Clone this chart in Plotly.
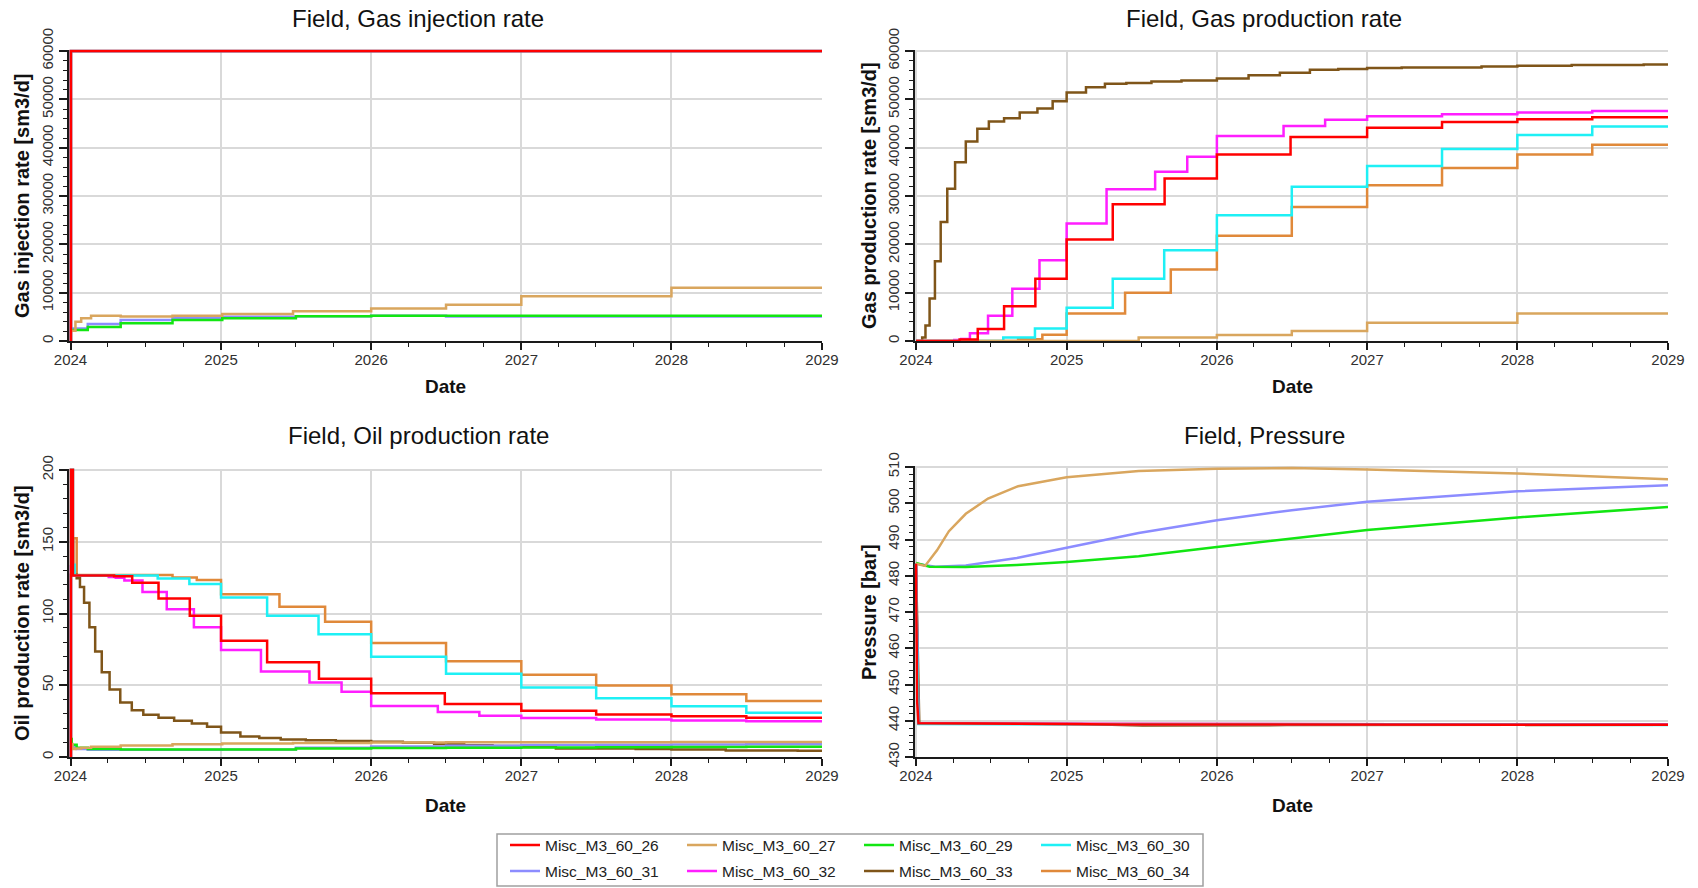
import pandas as pd
import plotly.graph_objects as go

W, H = 1698, 888
START = pd.Timestamp("2024-01-01")
END = pd.Timestamp("2029-01-01")

FONT = "Arial, 'Liberation Sans', sans-serif"

# ---- Report times (days since start) and field rates per case ----
# gir = gas injection rate, gpr = gas production rate, opr = oil production rate [sm3/d]
days_26 = [0, 1, 6, 106, 150, 214, 290, 366, 478, 604, 731, 910, 1096, 1278, 1461, 1643, 1827]
gir_26 = [0, 60000, 60000, 60000, 60000, 60000, 60000, 60000, 60000, 60000, 60000, 60000, 60000, 60000, 60000, 60000, 60000]
gpr_26 = [0, 0, 0, 300, 2500, 7200, 12900, 21000, 28300, 33600, 38600, 42200, 44100, 45300, 45900, 46300, 46300]
opr_26 = [0, 260, 126.5, 126, 121.5, 110.5, 98.4, 81, 66, 54.5, 44.5, 37, 32.3, 29.6, 28.4, 27.3, 27.3]

days_27 = [0, 5, 12, 26, 50, 122, 248, 369, 541, 731, 913, 1096, 1461, 1827]
gir_27 = [2100, 2100, 4000, 4700, 5250, 5050, 5250, 5600, 6150, 6700, 7500, 9250, 11000, 11000]
gpr_27 = [0, 0, 0, 0, 0, 0, 0, 0, 750, 1250, 2050, 3800, 5700, 5700]
opr_27 = [9, 5.5, 6.0, 6.5, 7.2, 8.0, 8.8, 9.4, 9.8, 10.1, 10.2, 10.3, 10.4, 10.4]

days_29 = [0, 3, 15, 42, 122, 248, 369, 548, 731, 913, 1096, 1278, 1461, 1643, 1827]
gir_29 = [2300, 2300, 2300, 2900, 3650, 4350, 4700, 5100, 5250, 5250, 5250, 5250, 5250, 5250, 5250]
opr_29 = [12.5, 8.5, 6.5, 5.5, 5.2, 5.2, 5.3, 6.0, 6.2, 6.4, 6.6, 6.8, 7.0, 7.2, 7.2]

days_30 = [0, 1, 6, 10, 212, 289, 366, 478, 603, 731, 913, 1096, 1278, 1461, 1643, 1827]
gir_30 = [0, 60000, 60000, 60000, 60000, 60000, 60000, 60000, 60000, 60000, 60000, 60000, 60000, 60000, 60000, 60000]
gpr_30 = [0, 0, 0, 0, 750, 2600, 6900, 12900, 18800, 26000, 31900, 36200, 39700, 42600, 44400, 44400]
opr_30 = [0, 240, 134, 126.5, 124.4, 120.5, 111.2, 98.4, 85.6, 69.8, 58.1, 48.4, 40.9, 35.3, 30.9, 30.9]

days_31 = [0, 3, 15, 42, 122, 248, 369, 548, 731, 913, 1096, 1278, 1461, 1643, 1827]
gir_31 = [2600, 2600, 2600, 3500, 4350, 4800, 5000, 5100, 5200, 5050, 5050, 5050, 5050, 5050, 5050]
opr_31 = [10, 7, 5.5, 5.0, 5.0, 5.1, 5.3, 6.5, 7.3, 7.9, 8.3, 8.5, 8.7, 8.8, 8.8]

days_32 = [0, 1, 5, 93, 110, 131, 175, 234, 300, 366, 463, 581, 659, 731, 893, 994, 1096, 1278, 1461, 1643, 1827]
gir_32 = [0] + [60000] * 20
gpr_32 = [0, 0, 0, 200, 400, 1600, 5200, 10800, 16700, 24300, 31400, 35000, 38100, 42400, 44500, 45800, 46500, 46900, 47300, 47600, 47600]
opr_32 = [0, 133, 126.5, 125.5, 125, 123, 115, 103, 90.5, 74.5, 59.5, 52, 45.5, 35.5, 31.4, 28.8, 27.2, 26.1, 25.4, 25.0, 25.0]

days_33 = [0, 1, 15, 23, 33, 46, 60, 76, 95, 121, 149, 177, 214, 252, 295, 332, 366, 413, 459, 511,
           572, 645, 731, 808, 884, 957, 1026, 1096, 1180, 1374, 1461, 1593, 1768, 1827]
gir_33 = [0] + [60000] * 33
gpr_33 = [0, 0, 700, 3200, 8800, 16500, 24600, 31500, 37000, 41300, 43900, 45400, 46100, 47300, 48100, 49600, 51400, 52500, 53200, 53400,
          53700, 53900, 54300, 55000, 55500, 56100, 56300, 56500, 56600, 56800, 56950, 57100, 57200, 57200]
opr_33 = [0, 127, 124.5, 118.5, 107.5, 90.5, 73.5, 59, 47, 38, 32.5, 29.5, 27.4, 25.3, 23.3, 21, 17, 14.2, 13.2, 12.2,
          11.6, 11.1, 10.7, 10, 9, 8.2, 7.6, 7.0, 6.0, 5.6, 5.2, 4.6, 4.3, 4.3]

days_34 = [0, 1, 7, 15, 248, 307, 366, 508, 619, 731, 913, 1096, 1278, 1461, 1643, 1827]
gir_34 = [0] + [60000] * 15
gpr_34 = [0, 0, 0, 0, 350, 1300, 5700, 10000, 14800, 21800, 27700, 32200, 35800, 38600, 40600, 40600]
opr_34 = [0, 127, 152.5, 126.8, 125.1, 123.3, 113.5, 104.7, 94.2, 79.5, 66.7, 57.4, 49.8, 43.7, 39.1, 39.1]

# ---- Field pressure [bar] ----
p_days_26 = [0, 1, 3, 6, 366, 500, 1827]
fpr_26 = [483.3, 465, 445, 439.3, 439.1, 439.0, 438.9]
p_days_27 = [0, 22, 51, 80, 121, 175, 248, 366, 541, 731, 913, 1096, 1461, 1827]
fpr_27 = [483.3, 482.7, 487.0, 492.3, 497.1, 501.3, 504.7, 507.2, 508.9, 509.5, 509.7, 509.3, 508.2, 506.6]
p_days_29 = [0, 33, 121, 245, 366, 541, 731, 913, 1096, 1461, 1827]
fpr_29 = [483.5, 482.5, 482.4, 483.0, 483.8, 485.4, 487.9, 490.2, 492.6, 496.1, 499.0]
p_days_30 = [0, 6, 1827]
fpr_30 = [483.3, 439.1, 438.85]
p_days_31 = [0, 47, 121, 245, 366, 541, 731, 913, 1096, 1461, 1827]
fpr_31 = [483.3, 482.5, 482.8, 484.9, 487.7, 491.8, 495.3, 498.1, 500.4, 503.3, 505.0]
p_days_32 = [0, 6, 1827]
fpr_32 = [483.3, 439.2, 438.95]
p_days_33 = [0, 8, 400, 550, 900, 1827]
fpr_33 = [483.3, 439.3, 439.1, 438.7, 438.8, 438.9]
p_days_34 = [0, 6, 1827]
fpr_34 = [483.3, 439.2, 438.95]

# name, colour, rate times, injection, gas production, oil production, pressure times, pressure
cases = [
    ("Misc_M3_60_26", "#FF0000", days_26, gir_26, gpr_26, opr_26, p_days_26, fpr_26),
    ("Misc_M3_60_27", "#D9A65E", days_27, gir_27, gpr_27, opr_27, p_days_27, fpr_27),
    ("Misc_M3_60_29", "#12E612", days_29, gir_29, None, opr_29, p_days_29, fpr_29),
    ("Misc_M3_60_30", "#1EF0F5", days_30, gir_30, gpr_30, opr_30, p_days_30, fpr_30),
    ("Misc_M3_60_31", "#8C8CFF", days_31, gir_31, None, opr_31, p_days_31, fpr_31),
    ("Misc_M3_60_32", "#FF1EFF", days_32, gir_32, gpr_32, opr_32, p_days_32, fpr_32),
    ("Misc_M3_60_33", "#7F5519", days_33, gir_33, gpr_33, opr_33, p_days_33, fpr_33),
    ("Misc_M3_60_34", "#E0893A", days_34, gir_34, gpr_34, opr_34, p_days_34, fpr_34),
]

LINE_W = 2.5


def to_dates(days):
    return START + pd.to_timedelta(days, unit="D")


fig = go.Figure()

# later cases first, so Misc_M3_60_26 is drawn on top
for rank in reversed(range(len(cases))):
    name, color, days, gir, gpr, opr, pdays, fpr = cases[rank]
    legend_id = "legend" if rank < 4 else "legend2"
    dates = to_dates(days)
    for k, (suffix, vals) in enumerate([("", gir), ("2", gpr), ("3", opr)]):
        if vals is None:
            continue
        fig.add_trace(go.Scatter(
            x=dates, y=vals, mode="lines", name=name, legendgroup=name,
            line=dict(color=color, width=LINE_W, shape="hv"),
            showlegend=(k == 0), legend=legend_id, legendrank=rank,
            xaxis="x" + suffix, yaxis="y" + suffix, hoverinfo="skip"))
    fig.add_trace(go.Scatter(
        x=to_dates(pdays), y=fpr, mode="lines", name=name, legendgroup=name,
        line=dict(color=color, width=LINE_W), showlegend=False,
        xaxis="x4", yaxis="y4", hoverinfo="skip"))

# plot areas in pixels: left, right, top, bottom (left edge = 2024, top edge = top tick)
panels = {
    "": (70.5, 822, 51, 341),
    "2": (916, 1668, 51, 341),
    "3": (70.5, 822, 470, 757),
    "4": (916, 1668, 467, 757),
}
y_specs = {
    "": dict(range=[0, 60000], dtick=10000, minor=2000),
    "2": dict(range=[0, 60000], dtick=10000, minor=2000),
    "3": dict(range=[0, 200], dtick=50, minor=10),
    "4": dict(range=[430, 510], dtick=10, minor=2),
}

# small padding so lines on the top/left edges are not cut in half
PAD_PX = 1.5

GRID = "#D9D9D9"
AXIS = "#1A1A1A"
TICKFONT = dict(family=FONT, size=15, color="#303030")

layout_axes = {}
for s, (l, r, t, b) in panels.items():
    n = s
    span_days = (END - START).days
    pad_days = PAD_PX * span_days / (r - l)
    x_start = START - pd.Timedelta(days=pad_days)
    ys = y_specs[s]
    y0, y1 = ys["range"]
    y_pad = PAD_PX * (y1 - y0) / (b - t)
    layout_axes["xaxis" + n] = dict(
        domain=[(l - PAD_PX) / W, r / W], anchor="y" + n, type="date",
        range=[x_start, END], tick0="2024-01-01", dtick="M12", tickformat="%Y",
        ticks="outside", ticklen=7, tickwidth=1.5, tickcolor=AXIS, ticklabelstandoff=-3,
        minor=dict(dtick="M3", ticks="outside", ticklen=4, tickwidth=1.2, tickcolor=AXIS, showgrid=False),
        showline=True, linecolor=AXIS, linewidth=2, layer="below traces",
        showgrid=True, gridcolor=GRID, gridwidth=2, zeroline=False, automargin=False,
        tickfont=TICKFONT, fixedrange=True)
    layout_axes["yaxis" + n] = dict(
        domain=[1 - b / H, 1 - (t - PAD_PX) / H], anchor="x" + n,
        range=[y0, y1 + y_pad], dtick=ys["dtick"], tick0=y0, tickformat="d",
        tickangle=-90, ticks="outside", ticklen=8, tickwidth=1.5, tickcolor=AXIS,
        minor=dict(dtick=ys["minor"], ticks="outside", ticklen=4, tickwidth=1.2, tickcolor=AXIS, showgrid=False),
        showline=True, linecolor=AXIS, linewidth=2, layer="below traces",
        showgrid=True, gridcolor=GRID, gridwidth=2, zeroline=False, automargin=False,
        tickfont=TICKFONT, fixedrange=True)

titles = [
    ("Field, Gas injection rate", 418, 18),
    ("Field, Gas production rate", 1264, 18),
    ("Field, Oil production rate", 418, 435),
    ("Field, Pressure", 1264, 435),
]
ylabels = [
    ("Gas injection rate [sm3/d]", 22, 196),
    ("Gas production rate [sm3/d]", 869, 196),
    ("Oil production rate [sm3/d]", 22, 613),
    ("Pressure [bar]", 869, 612),
]
xlabels = [(446, 387), (1292, 387), (446, 805), (1292, 805)]

annotations = []
for text, x, y in titles:
    annotations.append(dict(text=text, x=x / W, y=1 - y / H, xref="paper", yref="paper",
                            xanchor="center", yanchor="middle", showarrow=False,
                            font=dict(family=FONT, size=24, color="#111111")))
for text, x, y in ylabels:
    annotations.append(dict(text="<b>" + text + "</b>", x=x / W, y=1 - y / H, xref="paper", yref="paper",
                            xanchor="center", yanchor="middle", showarrow=False, textangle=-90,
                            font=dict(family=FONT, size=20, color="#111111")))
for x, y in xlabels:
    annotations.append(dict(text="<b>Date</b>", x=x / W, y=1 - y / H, xref="paper", yref="paper",
                            xanchor="center", yanchor="middle", showarrow=False,
                            font=dict(family=FONT, size=19, color="#111111")))

legend_common = dict(orientation="h", xanchor="left", yanchor="middle",
                     entrywidth=132, entrywidthmode="pixels",
                     bgcolor="rgba(0,0,0,0)", borderwidth=0,
                     font=dict(family=FONT, size=15.5, color="#222222"))

fig.update_layout(
    width=W, height=H,
    margin=dict(l=0, r=0, t=0, b=0, autoexpand=False),
    paper_bgcolor="white", plot_bgcolor="white",
    showlegend=True,
    legend=dict(x=505 / W, y=1 - 845.5 / H, **legend_common),
    legend2=dict(x=505 / W, y=1 - 871.5 / H, **legend_common),
    annotations=annotations,
    shapes=[dict(type="rect", xref="paper", yref="paper",
                 x0=497 / W, x1=1203 / W, y0=1 - 886 / H, y1=1 - 834 / H,
                 line=dict(color="#A0A0A0", width=1.5), fillcolor="rgba(0,0,0,0)")],
    **layout_axes,
)

fig.write_html("out.html", config={"displayModeBar": False})
